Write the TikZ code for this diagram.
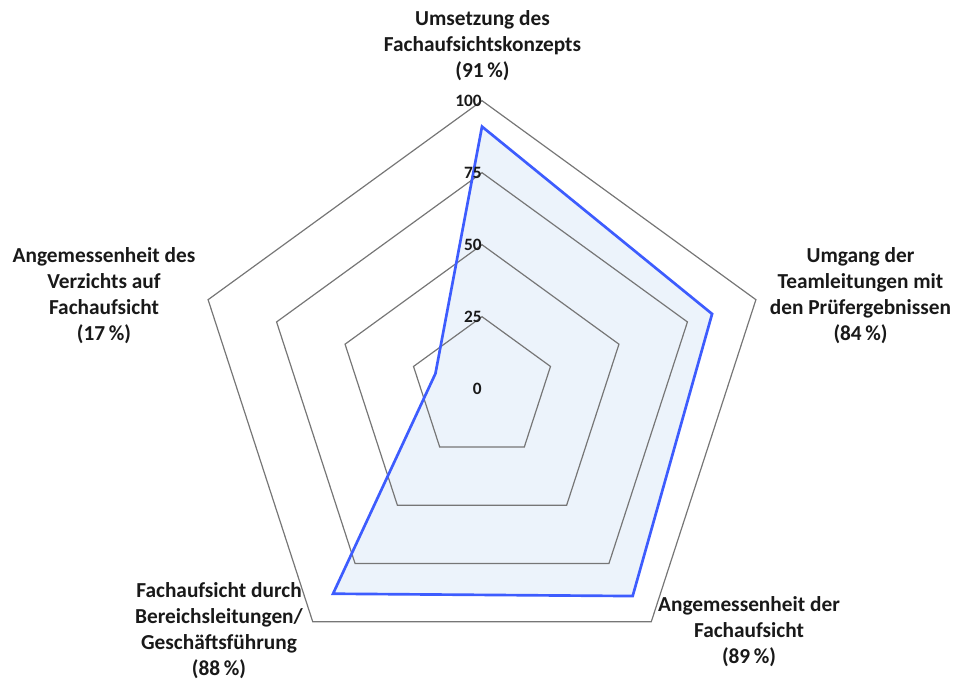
\documentclass[tikz,border=0pt]{standalone}
\usepackage{fontspec}
\setmainfont{Carlito}
\usetikzlibrary{calc}
\definecolor{datablue}{RGB}{61,92,254}
\definecolor{fillblue}{RGB}{236,243,251}
\definecolor{ringgray}{RGB}{118,118,118}
\definecolor{textblack}{RGB}{25,25,25}
\begin{document}
\begin{tikzpicture}[x=0.75pt,y=0.75pt,
  ring/.style={draw=ringgray, line width=0.9pt, line join=miter},
  dataline/.style={draw=datablue, line width=2pt, line join=miter},
  datafill/.style={fill=fillblue},
  cat/.style={font=\bfseries\fontsize{16}{19.5}\selectfont, align=center, inner sep=0pt, text=textblack},
  tick/.style={font=\bfseries\fontsize{13}{15}\selectfont, anchor=east, inner sep=0pt, text=textblack}]
\useasboundingbox (0,0) rectangle (955,681);
\coordinate (o) at (482,292.3);
% ring vertices
\foreach \r/\n in {72/ra,144/rb,216/rc,288/rd} {
  \foreach \k/\ang in {1/90,2/18,3/-54,4/-126,5/162} {
    \coordinate (\n\k) at ($(o)+(\ang:\r)$);
  }
}
% data vertices
\coordinate (p1) at ($(o)+(90:91*2.88)$);
\coordinate (p2) at ($(o)+(18:84*2.88)$);
\coordinate (p3) at ($(o)+(-54:89*2.88)$);
\coordinate (p4) at ($(o)+(-126:88*2.88)$);
\coordinate (p5) at ($(o)+(162:17*2.88)$);
\fill[datafill] (p1) -- (p2) -- (p3) -- (p4) -- (p5) -- cycle;
\foreach \n in {ra,rb,rc,rd} {
  \draw[ring] (\n1) -- (\n2) -- (\n3) -- (\n4) -- (\n5) -- cycle;
}
\draw[dataline] (p1) -- (p2) -- (p3) -- (p4) -- (p5) -- cycle;
% tick labels
\node[tick] (t0) at (o) {0};
\node[tick] (t25) at (ra1) {25};
\node[tick] (t50) at (rb1) {50};
\node[tick] (t75) at (rc1) {75};
\node[tick] (t100) at (rd1) {100};
% category labels
\node[cat] (lblA) at (482.5,635) {Umsetzung des\\Fachaufsichtskonzepts\\(91\,\%)};
\node[cat] (lblB) at (860.5,385.5) {Umgang der\\Teamleitungen mit\\den Prüfergebnissen\\(84\,\%)};
\node[cat] (lblC) at (749,49.5) {Angemessenheit der\\Fachaufsicht\\(89\,\%)};
\node[cat] (lblD) at (219,50) {Fachaufsicht durch\\Bereichsleitungen/\\Geschäftsführung\\(88\,\%)};
\node[cat] (lblE) at (104,385.5) {Angemessenheit des\\Verzichts auf\\Fachaufsicht\\(17\,\%)};
\end{tikzpicture}
\end{document}
